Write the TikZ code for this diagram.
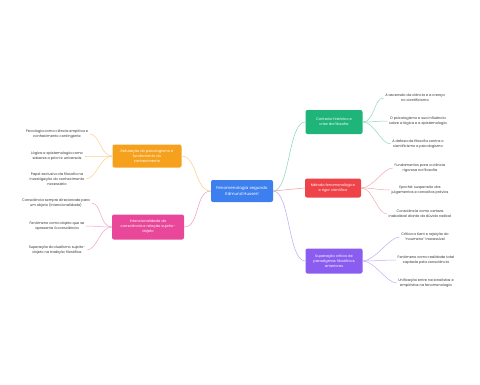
\documentclass[tikz,border=0pt]{standalone}
\usepackage{fontspec}
\setmainfont{Poppins}
\definecolor{cblue}{HTML}{3D7FEF}
\definecolor{corange}{HTML}{F5A11E}
\definecolor{cpink}{HTML}{E8479A}
\definecolor{cgreen}{HTML}{1FB57A}
\definecolor{cred}{HTML}{EE4349}
\definecolor{cpurple}{HTML}{8A5CF0}
\definecolor{leaftext}{HTML}{333333}
\tikzset{
  box/.style={rounded corners=2pt, text=white, align=center, inner sep=2pt, font=\fontsize{3.6}{5}\selectfont},
  leaf/.style={text=leaftext, align=center, inner sep=1.5pt, font=\fontsize{3.5}{5}\selectfont},
  conn/.style={line width=0.5pt},
}
\begin{document}
\begin{tikzpicture}[x=1pt,y=-1pt]
\useasboundingbox[fill=white] (0,0) rectangle (480,384);
% central
\node[box, fill=cblue, minimum width=62pt, minimum height=22pt, font=\fontsize{4.1}{6}\selectfont] (C) at (242,191) {Fenomenologia segundo\\Edmund Husserl};
% branches
\node[box, fill=corange, minimum width=69pt, minimum height=23pt] (O) at (147,156) {Refutação do psicologismo e\\fundamento do\\conhecimento};
\node[box, fill=cpink, minimum width=72pt, minimum height=25pt] (P) at (148,227) {Intencionalidade da\\consciência e relação sujeito-\\objeto};
\node[box, fill=cgreen, minimum width=57pt, minimum height=24pt] (G) at (334,122) {Contexto histórico e\\crise da filosofia};
\node[box, fill=cred, minimum width=56pt, minimum height=19pt] (R) at (333,188) {Método fenomenológico\\e rigor científico};
\node[box, fill=cpurple, minimum width=57pt, minimum height=25pt] (U) at (334,261) {Superação crítica de\\paradigmas filosóficos\\anteriores};
% leaves
\node[leaf] (O1) at (57,134) {Psicologia como ciência empírica e\\conhecimento contingente};
\node[leaf] (O2) at (57,156) {Lógica e epistemologia como\\saberes a priori e universais};
\node[leaf] (O3) at (57,179) {Papel exclusivo da filosofia na\\investigação do conhecimento\\necessário};
\node[leaf] (P1) at (56,203) {Consciência sempre direcionada para\\um objeto (intencionalidade)};
\node[leaf] (P2) at (57,226) {Fenômeno como objeto que se\\apresenta à consciência};
\node[leaf] (P3) at (57,250) {Superação do dualismo sujeito-\\objeto na tradição filosófica};
\node[leaf] (G1) at (415,98) {A ascensão da ciência e a crença\\no cientificismo};
\node[leaf] (G2) at (418,121) {O psicologismo e sua influência\\sobre a lógica e a epistemologia};
\node[leaf] (G3) at (418,144) {A defesa da filosofia contra o\\cientificismo e psicologismo};
\node[leaf] (R1) at (420,168) {Fundamentos para a ciência\\rigorosa na filosofia};
\node[leaf] (R2) at (420,190) {Epoché: suspensão dos\\julgamentos e conceitos prévios};
\node[leaf] (R3) at (420,214) {Consciência como certeza\\inabalável diante da dúvida radical};
\node[leaf] (U1) at (425,237) {Crítica a Kant e rejeição do\\“noumeno” inacessível};
\node[leaf] (U2) at (426,260) {Fenômeno como realidade total\\captada pela consciência};
\node[leaf] (U3) at (426,283) {Unificação entre racionalistas e\\empiristas na fenomenologia};
% main connectors
\draw[conn, corange!55] (C.west) .. controls (195,191) and (197,156) .. (O.east);
\draw[conn, cpink!55] (C.west) .. controls (195,191) and (200,227) .. (P.east);
\draw[conn, cgreen!55] (C.east) .. controls (290,191) and (288,122) .. (G.west);
\draw[conn, cred!55] (C.east) -- (R.west);
\draw[conn, cpurple!55] (C.east) .. controls (290,191) and (288,261) .. (U.west);
% leaf connectors
\foreach \l in {O1,O2,O3}{\draw[conn, corange!50] (O.west) .. controls +(-12,0) and +(10,0) .. (\l.east);}
\foreach \l in {P1,P2,P3}{\draw[conn, cpink!50] (P.west) .. controls +(-12,0) and +(10,0) .. (\l.east);}
\foreach \l in {G1,G2,G3}{\draw[conn, cgreen!50] (G.east) .. controls +(12,0) and +(-10,0) .. (\l.west);}
\foreach \l in {R1,R2,R3}{\draw[conn, cred!45] (R.east) .. controls +(12,0) and +(-10,0) .. (\l.west);}
\foreach \l in {U1,U2,U3}{\draw[conn, cpurple!50] (U.east) .. controls +(12,0) and +(-10,0) .. (\l.west);}
\end{tikzpicture}
\end{document}
